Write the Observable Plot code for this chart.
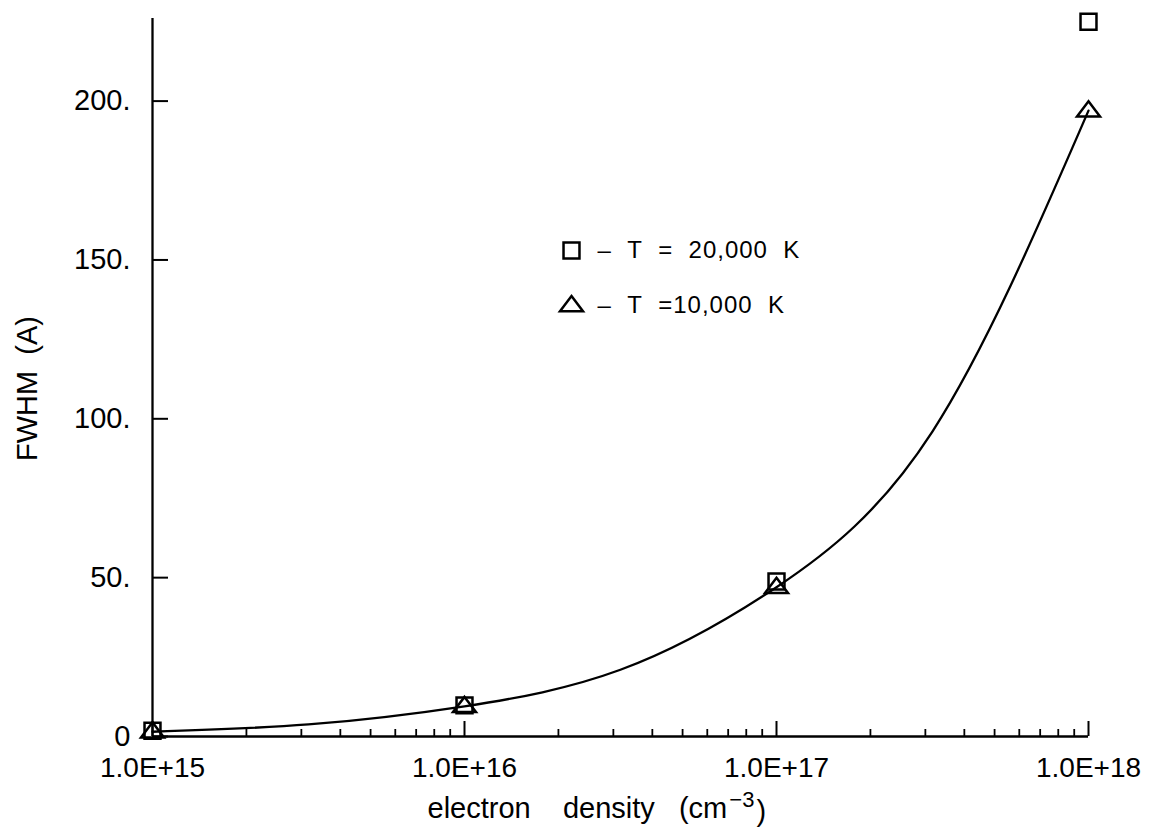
<!DOCTYPE html>
<html>
<head>
<meta charset="utf-8">
<script src="https://cdn.jsdelivr.net/npm/d3@7"></script>
<script src="https://cdn.jsdelivr.net/npm/@observablehq/plot@0.6"></script>
<style>
  html, body { margin: 0; padding: 0; background: #fff; }
  #chart svg { display: block; }
  .legendtext text { letter-spacing: 1px; }
</style>
</head>
<body>
<div id="chart"></div>
<script>
// ---- data ----
const densities = [1e15, 1e16, 1e17, 1e18];
const fwhm20000 = [1.8, 9.8, 48.8, 225];   // squares, T = 20,000 K
const fwhm10000 = [1.5, 9.5, 47.0, 197];   // triangles, T = 10,000 K

// smooth fitted curve, read at half-decade points
const curveDensity = [1e15, 3.16e15, 1e16, 3.16e16, 1e17, 3.16e17, 1e18];
const curveFwhm    = [1.5, 3.8, 9.5, 21.0, 47.0, 96.0, 197];

const xMajorTicks = [1e15, 1e16, 1e17, 1e18];
const xTickLabels = ["1.0E+15", "1.0E+16", "1.0E+17", "1.0E+18"];
const yTicks = [0, 50, 100, 150, 200];
const yTickLabels = ["0", "50.", "100.", "150.", "200."];
const minorMultipliers = [2, 3, 4, 5, 6, 7, 8, 9];
const legendLabels = ["\u2013\u00a0\u00a0T\u00a0\u00a0=\u00a0\u00a020,000\u00a0\u00a0K",
                      "\u2013\u00a0\u00a0T\u00a0\u00a0=10,000\u00a0\u00a0K"];
const xLabelMain = "electron\u00a0\u00a0\u00a0\u00a0density\u00a0\u00a0\u00a0(cm";
const xLabelSup = "\u22123";
const xLabelEnd = ")";
const yLabel = "FWHM\u00a0\u00a0(A)";

// ---- build tables ----
const squares = densities.map((d, i) => ({x: d, y: fwhm20000[i]}));
const triangles = densities.map((d, i) => ({x: d, y: fwhm10000[i]}));
const curve = curveDensity.map((d, i) => ({x: d, y: curveFwhm[i]}));
const xMinor = [];
for (let k = 0; k < xMajorTicks.length - 1; k++)
  for (const m of minorMultipliers) xMinor.push(xMajorTicks[k] * m);

const W = 1155, H = 830;
const mL = 152, mR = 67, mT = 18, mB = 94;
const frameW = W - mL - mR, frameH = H - mT - mB;
const FONT = "'Liberation Sans', Arial, sans-serif";

const flatTriangle = {
  draw(ctx, size) {
    const s = Math.sqrt(size);
    const hw = s * 0.72, h = s * 0.95;
    ctx.moveTo(0, -h * 0.62);
    ctx.lineTo(hw, h * 0.38);
    ctx.lineTo(-hw, h * 0.38);
    ctx.closePath();
  }
};

const chart = Plot.plot({
  width: W, height: H,
  marginLeft: mL, marginRight: mR, marginTop: mT, marginBottom: mB,
  style: {fontFamily: FONT, fontSize: "28px", color: "#000", background: "#fff"},
  x: {type: "log", domain: [1e15, 1e18]},
  y: {domain: [0, 226]},
  marks: [
    // axis lines
    Plot.ruleX([1e15], {stroke: "#000", strokeWidth: 2.3}),
    Plot.ruleY([0], {stroke: "#000", strokeWidth: 2.3}),
    // inward ticks
    Plot.ruleX(xMajorTicks, {stroke: "#000", strokeWidth: 2, insetTop: frameH - 15}),
    Plot.ruleX(xMinor, {stroke: "#000", strokeWidth: 1.8, insetTop: frameH - 7}),
    Plot.ruleY(yTicks, {stroke: "#000", strokeWidth: 2, insetRight: frameW - 16}),
    // tick labels
    Plot.axisX({ticks: xMajorTicks, tickFormat: d => xTickLabels[xMajorTicks.indexOf(d)],
                tickSize: 0, tickPadding: 21, label: null, fontSize: 28}),
    Plot.axisY({ticks: yTicks, tickFormat: d => yTickLabels[yTicks.indexOf(d)],
                tickSize: 0, tickPadding: 22, label: null, fontSize: 29}),
    // axis titles
    Plot.text([xLabelMain], {text: d => d, frameAnchor: "bottom-left", textAnchor: "start", lineAnchor: "middle",
                             dy: 72, dx: 275, fontSize: 29, className: "xlabel"}),
    Plot.text([yLabel], {text: d => d, frameAnchor: "left", textAnchor: "middle", lineAnchor: "middle",
                         rotate: -90, dx: -125, dy: 11, fontSize: 29}),
    // curve
    Plot.line(curve, {x: "x", y: "y", curve: "natural", stroke: "#000", strokeWidth: 2.3}),
    // data markers
    Plot.dot(squares, {x: "x", y: "y", symbol: "square", r: 9, stroke: "#000", strokeWidth: 2.5, fill: "none"}),
    Plot.dot(triangles, {x: "x", y: "y", symbol: flatTriangle, r: 9, stroke: "#000", strokeWidth: 2.5, fill: "none"}),
    // legend
    Plot.dot([0], {frameAnchor: "top-left", dx: 419, dy: 232, symbol: "square", r: 9, stroke: "#000", strokeWidth: 2.5, fill: "none"}),
    Plot.dot([0], {frameAnchor: "top-left", dx: 419, dy: 287, symbol: flatTriangle, r: 9, stroke: "#000", strokeWidth: 2.5, fill: "none"}),
    Plot.text([legendLabels[0]], {text: d => d, frameAnchor: "top-left", dx: 445, dy: 232, textAnchor: "start", lineAnchor: "middle", fontSize: 24, className: "legendtext"}),
    Plot.text([legendLabels[1]], {text: d => d, frameAnchor: "top-left", dx: 445, dy: 287, textAnchor: "start", lineAnchor: "middle", fontSize: 24, className: "legendtext"})
  ]
});
document.getElementById("chart").appendChild(chart);

// add the superscript "-3" to the x-axis title as real text
const xl = chart.querySelector("g.xlabel text") || Array.from(chart.querySelectorAll("text")).find(t => t.textContent.startsWith("electron"));
if (xl) {
  const ns = "http://www.w3.org/2000/svg";
  const sup = document.createElementNS(ns, "tspan");
  sup.setAttribute("dy", "-0.5em");
  sup.setAttribute("dx", "2");
  sup.setAttribute("font-size", "22");
  sup.textContent = xLabelSup;
  const end = document.createElementNS(ns, "tspan");
  end.setAttribute("dy", "0.5em");
  end.setAttribute("dx", "2");
  end.textContent = xLabelEnd;
  xl.appendChild(sup);
  xl.appendChild(end);
}
</script>
</body>
</html>
